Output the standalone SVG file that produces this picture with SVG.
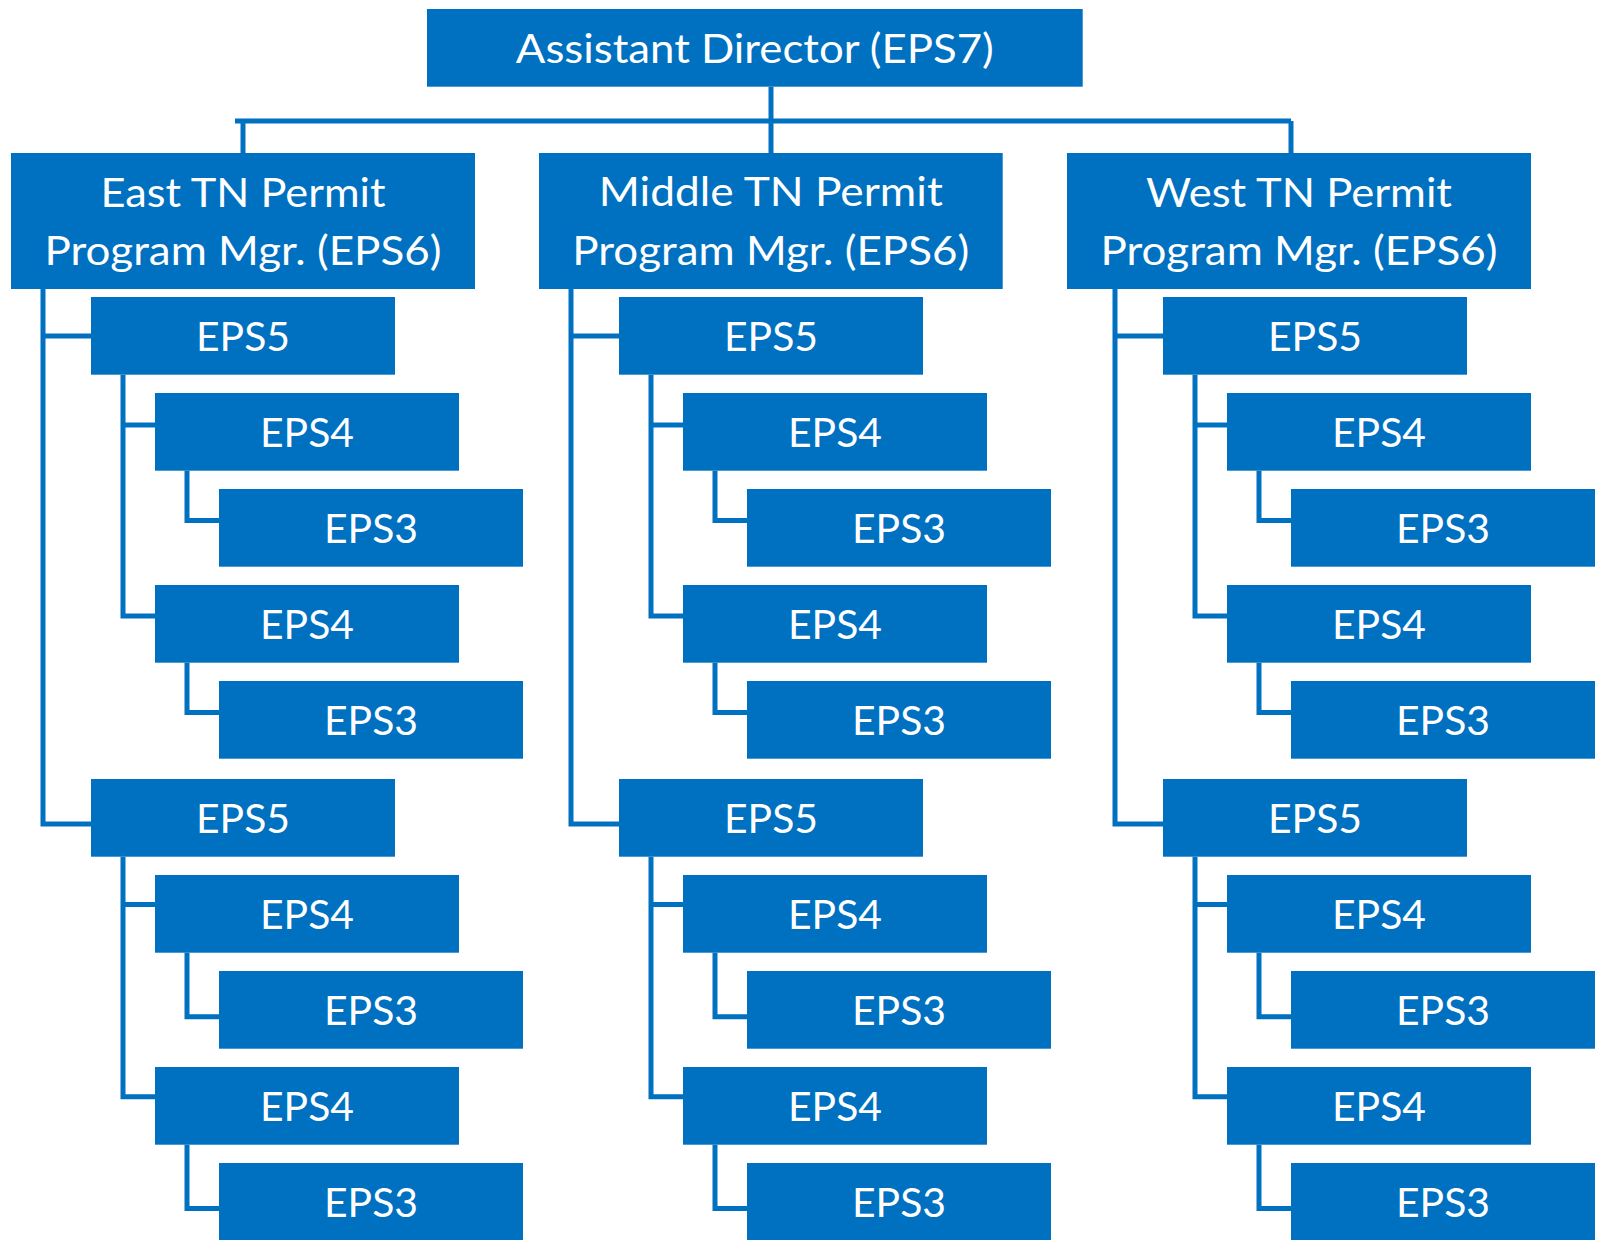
<svg xmlns="http://www.w3.org/2000/svg" width="1602" height="1240" viewBox="0 0 1602 1240">
<style>
.box{fill:#0070C0}
.t{fill:#ffffff;font-family:Lato,"Liberation Sans",sans-serif;font-size:41.5px;text-anchor:middle}
.c{fill:none;stroke:#0070C0;stroke-width:5;stroke-linejoin:miter}
</style>
<rect width="1602" height="1240" fill="#ffffff"/>
<g id="connectors" class="c">
<path d="M771 86.7V153"/>
<path d="M235 121H1291"/>
<path d="M243 121V153"/>
<path d="M1291 121V153"/>
<!-- East -->
<path d="M43 288.5V824H91"/>
<path d="M43 336H91"/>
<path d="M123 374.7V616H155"/>
<path d="M123 425H155"/>
<path d="M187 470.7V520.5H219"/>
<path d="M187 662.7V712.5H219"/>
<path d="M123 856.7V1096.7H155"/>
<path d="M123 904.5H155"/>
<path d="M187 952.7V1016.7H219"/>
<path d="M187 1144.7V1208.5H219"/>
<!-- Middle -->
<path d="M571 288.5V824H619"/>
<path d="M571 336H619"/>
<path d="M651 374.7V616H683"/>
<path d="M651 425H683"/>
<path d="M715 470.7V520.5H747"/>
<path d="M715 662.7V712.5H747"/>
<path d="M651 856.7V1096.7H683"/>
<path d="M651 904.5H683"/>
<path d="M715 952.7V1016.7H747"/>
<path d="M715 1144.7V1208.5H747"/>
<!-- West -->
<path d="M1115 288.5V824H1163"/>
<path d="M1115 336H1163"/>
<path d="M1195 374.7V616H1227"/>
<path d="M1195 425H1227"/>
<path d="M1259 470.7V520.5H1291"/>
<path d="M1259 662.7V712.5H1291"/>
<path d="M1195 856.7V1096.7H1227"/>
<path d="M1195 904.5H1227"/>
<path d="M1259 952.7V1016.7H1291"/>
<path d="M1259 1144.7V1208.5H1291"/>
</g>
<g id="n-ad"><rect class="box" x="427" y="9" width="655.7" height="77.7"/><text class="t" x="754.8" y="62.7" textLength="478" lengthAdjust="spacingAndGlyphs">Assistant Director (EPS7)</text></g>
<g id="n-east"><rect class="box" x="11" y="153" width="464" height="136"/><text class="t" x="243" y="206.5" textLength="285" lengthAdjust="spacingAndGlyphs">East TN Permit</text><text class="t" x="243" y="264.5" textLength="397" lengthAdjust="spacingAndGlyphs">Program Mgr. (EPS6)</text></g>
<g id="n-mid"><rect class="box" x="539" y="153" width="463.7" height="136"/><text class="t" x="770.8" y="206" textLength="344" lengthAdjust="spacingAndGlyphs">Middle TN Permit</text><text class="t" x="770.8" y="264.5" textLength="397" lengthAdjust="spacingAndGlyphs">Program Mgr. (EPS6)</text></g>
<g id="n-west"><rect class="box" x="1067" y="153" width="464" height="136"/><text class="t" x="1299" y="206.5" textLength="306" lengthAdjust="spacingAndGlyphs">West TN Permit</text><text class="t" x="1299" y="264.5" textLength="397" lengthAdjust="spacingAndGlyphs">Program Mgr. (EPS6)</text></g>

<g id="n-e5a"><rect class="box" x="91" y="297" width="304" height="77.7"/><text class="t" x="243" y="350.7" textLength="94" lengthAdjust="spacingAndGlyphs">EPS5</text></g>
<g id="n-e4a"><rect class="box" x="155" y="393" width="304" height="77.7"/><text class="t" x="307" y="446.7" textLength="94" lengthAdjust="spacingAndGlyphs">EPS4</text></g>
<g id="n-e3a"><rect class="box" x="219" y="489" width="304" height="77.7"/><text class="t" x="371" y="542.7" textLength="94" lengthAdjust="spacingAndGlyphs">EPS3</text></g>
<g id="n-e4b"><rect class="box" x="155" y="585" width="304" height="77.7"/><text class="t" x="307" y="638.7" textLength="94" lengthAdjust="spacingAndGlyphs">EPS4</text></g>
<g id="n-e3b"><rect class="box" x="219" y="681" width="304" height="77.7"/><text class="t" x="371" y="734.7" textLength="94" lengthAdjust="spacingAndGlyphs">EPS3</text></g>
<g id="n-e5b"><rect class="box" x="91" y="779" width="304" height="77.7"/><text class="t" x="243" y="832.7" textLength="94" lengthAdjust="spacingAndGlyphs">EPS5</text></g>
<g id="n-e4c"><rect class="box" x="155" y="875" width="304" height="77.7"/><text class="t" x="307" y="928.7" textLength="94" lengthAdjust="spacingAndGlyphs">EPS4</text></g>
<g id="n-e3c"><rect class="box" x="219" y="971" width="304" height="77.7"/><text class="t" x="371" y="1024.7" textLength="94" lengthAdjust="spacingAndGlyphs">EPS3</text></g>
<g id="n-e4d"><rect class="box" x="155" y="1067" width="304" height="77.7"/><text class="t" x="307" y="1120.7" textLength="94" lengthAdjust="spacingAndGlyphs">EPS4</text></g>
<g id="n-e3d"><rect class="box" x="219" y="1163" width="304" height="77.7"/><text class="t" x="371" y="1216.7" textLength="94" lengthAdjust="spacingAndGlyphs">EPS3</text></g>

<g id="n-m5a"><rect class="box" x="619" y="297" width="304" height="77.7"/><text class="t" x="771" y="350.7" textLength="94" lengthAdjust="spacingAndGlyphs">EPS5</text></g>
<g id="n-m4a"><rect class="box" x="683" y="393" width="304" height="77.7"/><text class="t" x="835" y="446.7" textLength="94" lengthAdjust="spacingAndGlyphs">EPS4</text></g>
<g id="n-m3a"><rect class="box" x="747" y="489" width="304" height="77.7"/><text class="t" x="899" y="542.7" textLength="94" lengthAdjust="spacingAndGlyphs">EPS3</text></g>
<g id="n-m4b"><rect class="box" x="683" y="585" width="304" height="77.7"/><text class="t" x="835" y="638.7" textLength="94" lengthAdjust="spacingAndGlyphs">EPS4</text></g>
<g id="n-m3b"><rect class="box" x="747" y="681" width="304" height="77.7"/><text class="t" x="899" y="734.7" textLength="94" lengthAdjust="spacingAndGlyphs">EPS3</text></g>
<g id="n-m5b"><rect class="box" x="619" y="779" width="304" height="77.7"/><text class="t" x="771" y="832.7" textLength="94" lengthAdjust="spacingAndGlyphs">EPS5</text></g>
<g id="n-m4c"><rect class="box" x="683" y="875" width="304" height="77.7"/><text class="t" x="835" y="928.7" textLength="94" lengthAdjust="spacingAndGlyphs">EPS4</text></g>
<g id="n-m3c"><rect class="box" x="747" y="971" width="304" height="77.7"/><text class="t" x="899" y="1024.7" textLength="94" lengthAdjust="spacingAndGlyphs">EPS3</text></g>
<g id="n-m4d"><rect class="box" x="683" y="1067" width="304" height="77.7"/><text class="t" x="835" y="1120.7" textLength="94" lengthAdjust="spacingAndGlyphs">EPS4</text></g>
<g id="n-m3d"><rect class="box" x="747" y="1163" width="304" height="77.7"/><text class="t" x="899" y="1216.7" textLength="94" lengthAdjust="spacingAndGlyphs">EPS3</text></g>

<g id="n-w5a"><rect class="box" x="1163" y="297" width="304" height="77.7"/><text class="t" x="1315" y="350.7" textLength="94" lengthAdjust="spacingAndGlyphs">EPS5</text></g>
<g id="n-w4a"><rect class="box" x="1227" y="393" width="304" height="77.7"/><text class="t" x="1379" y="446.7" textLength="94" lengthAdjust="spacingAndGlyphs">EPS4</text></g>
<g id="n-w3a"><rect class="box" x="1291" y="489" width="304" height="77.7"/><text class="t" x="1443" y="542.7" textLength="94" lengthAdjust="spacingAndGlyphs">EPS3</text></g>
<g id="n-w4b"><rect class="box" x="1227" y="585" width="304" height="77.7"/><text class="t" x="1379" y="638.7" textLength="94" lengthAdjust="spacingAndGlyphs">EPS4</text></g>
<g id="n-w3b"><rect class="box" x="1291" y="681" width="304" height="77.7"/><text class="t" x="1443" y="734.7" textLength="94" lengthAdjust="spacingAndGlyphs">EPS3</text></g>
<g id="n-w5b"><rect class="box" x="1163" y="779" width="304" height="77.7"/><text class="t" x="1315" y="832.7" textLength="94" lengthAdjust="spacingAndGlyphs">EPS5</text></g>
<g id="n-w4c"><rect class="box" x="1227" y="875" width="304" height="77.7"/><text class="t" x="1379" y="928.7" textLength="94" lengthAdjust="spacingAndGlyphs">EPS4</text></g>
<g id="n-w3c"><rect class="box" x="1291" y="971" width="304" height="77.7"/><text class="t" x="1443" y="1024.7" textLength="94" lengthAdjust="spacingAndGlyphs">EPS3</text></g>
<g id="n-w4d"><rect class="box" x="1227" y="1067" width="304" height="77.7"/><text class="t" x="1379" y="1120.7" textLength="94" lengthAdjust="spacingAndGlyphs">EPS4</text></g>
<g id="n-w3d"><rect class="box" x="1291" y="1163" width="304" height="77.7"/><text class="t" x="1443" y="1216.7" textLength="94" lengthAdjust="spacingAndGlyphs">EPS3</text></g>
</svg>
